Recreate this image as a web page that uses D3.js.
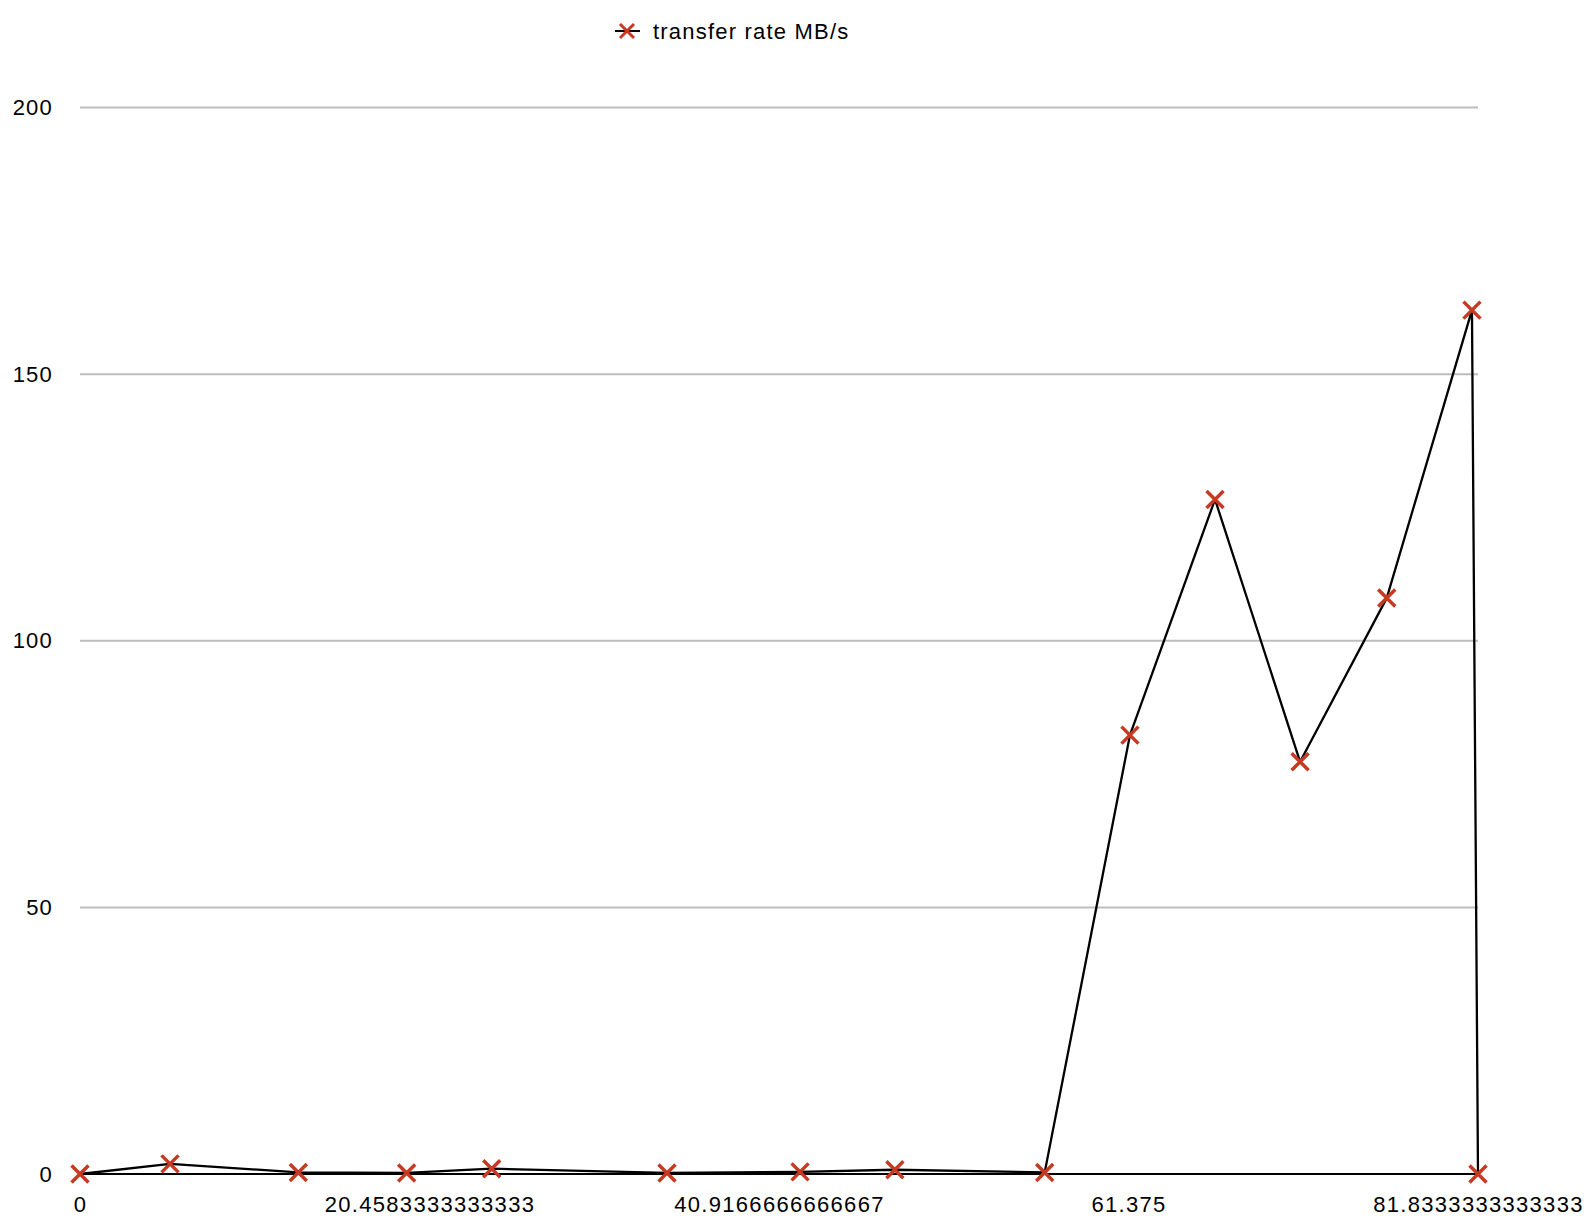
<!DOCTYPE html>
<html>
<head>
<meta charset="utf-8">
<script src="https://cdn.jsdelivr.net/npm/d3@7"></script>
<style>
  body { margin: 0; background: #fff; }
  text { font-family: "Liberation Sans", Arial, Helvetica, sans-serif; fill: #000; }
</style>
</head>
<body>
<svg id="chart"></svg>
<script>
// Data
const seriesName = "transfer rate MB/s";
const elapsed = [0, 5.27, 12.78, 19.12, 24.1, 34.36, 42.15, 47.7, 56.47, 61.46, 66.44, 71.42, 76.49, 81.48, 81.8333333333333];
const rate = [0, 1.9, 0.3, 0.2, 1.0, 0.2, 0.4, 0.8, 0.3, 82.3, 126.5, 77.3, 108.0, 162.0, 0];
const xTicks = [0, 20.4583333333333, 40.9166666666667, 61.375, 81.8333333333333];
const xTickLabels = ["0", "20.4583333333333", "40.9166666666667", "61.375", "81.8333333333333"];
const yTicks = [0, 50, 100, 150, 200];

const width = 1594, height = 1221;
const markerColor = "#c53a22";

const svg = d3.select("#chart")
    .attr("width", width)
    .attr("height", height);

const x = d3.scaleLinear().domain([0, 81.8333333333333]).range([80, 1478]);
const y = d3.scaleLinear().domain([0, 200]).range([1174, 107.5]);

// horizontal grid lines
svg.append("g")
    .selectAll("line")
    .data(yTicks.filter(d => d > 0))
    .enter().append("line")
    .attr("x1", x.range()[0])
    .attr("x2", x.range()[1])
    .attr("y1", d => y(d))
    .attr("y2", d => y(d))
    .attr("stroke", "#bdbdbd")
    .attr("stroke-width", 2);

// y axis labels
const yAxis = d3.axisLeft(y).tickValues(yTicks).tickSize(0).tickPadding(0);
svg.append("g")
    .attr("transform", "translate(53,0)")
    .call(yAxis)
    .call(g => g.select(".domain").remove())
    .call(g => g.selectAll("text")
        .attr("font-size", 22)
        .attr("letter-spacing", "1.2px")
        .attr("font-family", null));

// x axis baseline + labels
const xAxis = d3.axisBottom(x)
    .tickValues(xTicks)
    .tickFormat((d, i) => xTickLabels[i])
    .tickSize(0)
    .tickPadding(0);
svg.append("g")
    .attr("transform", `translate(0,${y(0)})`)
    .call(xAxis)
    .call(g => g.select(".domain").attr("stroke", "#000").attr("stroke-width", 2).attr("d", `M${x.range()[0]},0H${x.range()[1]}`))
    .call(g => g.selectAll("text")
        .attr("font-size", 22)
        .attr("letter-spacing", "1.3px")
        .attr("font-family", null)
        .attr("dy", null)
        .attr("y", 38));

// data line
const line = d3.line()
    .x((d, i) => x(elapsed[i]))
    .y(d => y(d));

svg.append("path")
    .datum(rate)
    .attr("fill", "none")
    .attr("stroke", "#000")
    .attr("stroke-width", 2.3)
    .attr("stroke-linejoin", "round")
    .attr("d", line);

// markers
const cross = "M-8.5,-8.5L8.5,8.5M-8.5,8.5L8.5,-8.5";
svg.append("g")
    .selectAll("path")
    .data(rate)
    .enter().append("path")
    .attr("transform", (d, i) => `translate(${x(elapsed[i])},${y(d)})`)
    .attr("d", cross)
    .attr("stroke", markerColor)
    .attr("stroke-width", 3.5)
    .attr("fill", "none");

// legend
const legend = svg.append("g").attr("transform", "translate(627,31)");
legend.append("line")
    .attr("x1", -12).attr("x2", 13)
    .attr("stroke", "#000").attr("stroke-width", 2);
legend.append("path")
    .attr("d", "M-7,-7L7,7M-7,7L7,-7")
    .attr("stroke", markerColor)
    .attr("stroke-width", 3);
legend.append("text")
    .attr("x", 26)
    .attr("y", 7.5)
    .attr("font-size", 22)
    .attr("letter-spacing", "1.2px")
    .text(seriesName);
</script>
</body>
</html>
